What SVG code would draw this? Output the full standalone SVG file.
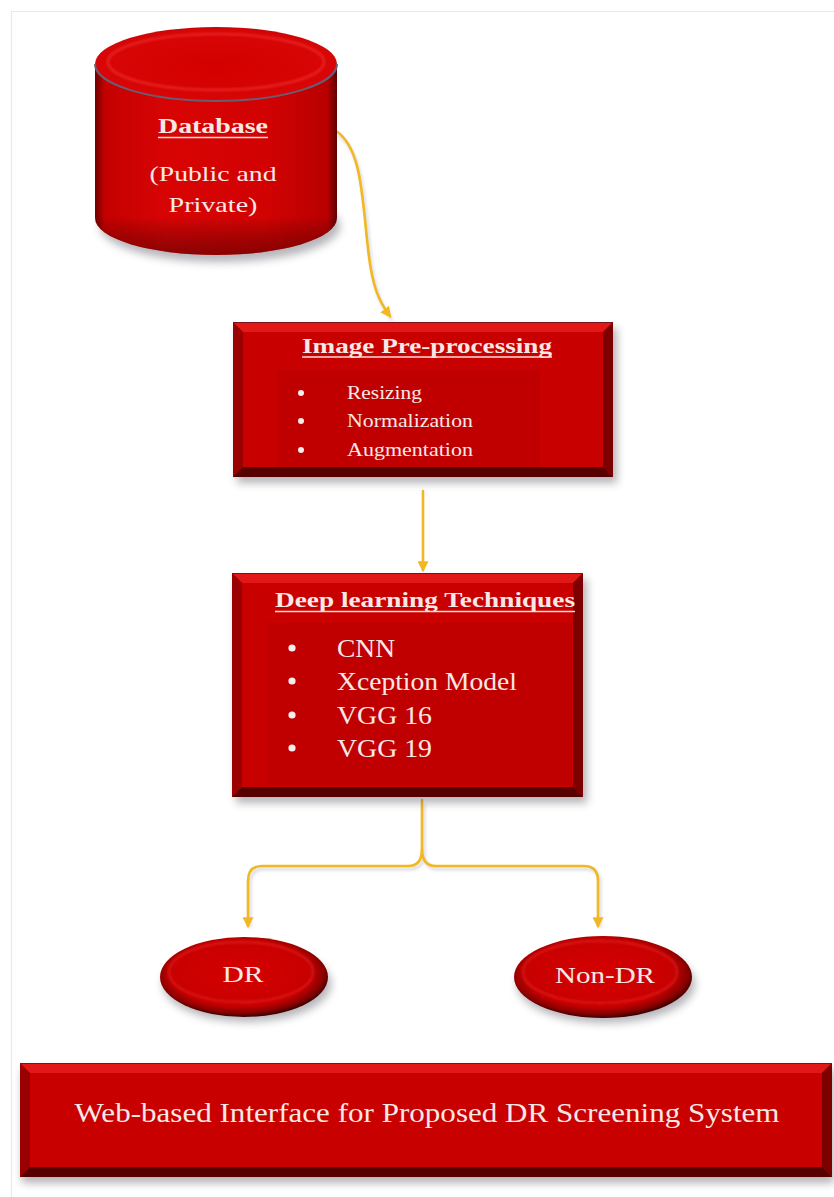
<svg xmlns="http://www.w3.org/2000/svg" width="834" height="1197" viewBox="0 0 834 1197">
  <defs>
    <style>
      .lbl { font-family: "Liberation Serif", "Times New Roman", serif; fill: #f7e8e6; }
      .ttl { font-weight: bold; }
      .ul { stroke: #f3dcd8; stroke-width: 1.6; }
      .wire { fill: none; stroke: #f2b822; stroke-width: 2.6; stroke-linecap: round; }
      .wire-sh { fill: none; stroke: #9a9aa8; stroke-width: 3; opacity: 0.35; filter: url(#soft); }
      .face { fill: #c80000; }
      .bev-t { fill: #e21818; }
      .bev-l { fill: #9a0000; }
      .bev-r { fill: #7c0000; }
      .bev-b { fill: #560000; }
      .panel { fill: #b90000; opacity: 0.55; }
      .dot { fill: #f7ece9; }
      .shadow { fill: #5a5a66; opacity: 0.45; filter: url(#blur4); }
    </style>
    <filter id="blur4" x="-10%" y="-20%" width="120%" height="140%">
      <feGaussianBlur stdDeviation="4"/>
    </filter>
    <filter id="soft" x="-20%" y="-20%" width="140%" height="140%">
      <feGaussianBlur stdDeviation="1.5"/>
    </filter>
    <filter id="edge" x="-5%" y="-5%" width="110%" height="110%">
      <feGaussianBlur stdDeviation="0.8"/>
    </filter>
    <linearGradient id="cylBody" x1="0" y1="0" x2="1" y2="0">
      <stop offset="0" stop-color="#6e0000"/>
      <stop offset="0.04" stop-color="#c40000"/>
      <stop offset="0.3" stop-color="#d80404"/>
      <stop offset="0.7" stop-color="#d20202"/>
      <stop offset="0.96" stop-color="#b80000"/>
      <stop offset="1" stop-color="#5e0000"/>
    </linearGradient>
    <linearGradient id="cylShade" x1="0" y1="0" x2="0" y2="1">
      <stop offset="0" stop-color="#000" stop-opacity="0"/>
      <stop offset="0.8" stop-color="#000" stop-opacity="0"/>
      <stop offset="1" stop-color="#300000" stop-opacity="0.45"/>
    </linearGradient>
    <radialGradient id="cylTop" cx="0.5" cy="0.55" r="0.6">
      <stop offset="0" stop-color="#d40000"/>
      <stop offset="0.85" stop-color="#d80606"/>
      <stop offset="1" stop-color="#b00000"/>
    </radialGradient>
    <radialGradient id="oval" cx="0.48" cy="0.45" r="0.55">
      <stop offset="0" stop-color="#d60000"/>
      <stop offset="0.75" stop-color="#c80000"/>
      <stop offset="0.9" stop-color="#8a0000"/>
      <stop offset="1" stop-color="#3a0000"/>
    </radialGradient>
    <marker id="head" viewBox="0 0 10 10" refX="8" refY="5" markerWidth="11" markerHeight="11" markerUnits="userSpaceOnUse" orient="auto">
      <path d="M0,0 L10,5 L0,10 Z" fill="#f2b822"/>
    </marker>
  </defs>

  <rect width="834" height="1197" fill="#ffffff"/>
  <!-- faint page frame -->
  <path d="M11.5,1197 V11.5 H834" fill="none" stroke="#e9e9ec" stroke-width="1.2"/>

  <!-- connectors -->
  <g id="connectors">
    <path class="wire-sh" d="M338,135 C364,152 364,202 370,252 C374,292 382,307 392,320"/>
    <path class="wire" d="M336,131 C362,148 362,198 368,248 C372,288 380,303 390,316" marker-end="url(#head)"/>
    <path class="wire-sh" d="M425,494 V574"/>
    <path class="wire" d="M423,491 V570" marker-end="url(#head)"/>
    <path class="wire-sh" d="M424,804 V852 Q424,869 410,869 H264 Q250,869 250,884 V928 M424,852 Q424,869 438,869 H586 Q600,869 600,884 V928"/>
    <path class="wire" d="M422,800 V849 Q422,866 408,866 H262 Q248,866 248,881 V926" marker-end="url(#head)"/>
    <path class="wire" d="M422,849 Q422,866 436,866 H584 Q598,866 598,881 V926" marker-end="url(#head)"/>
  </g>

  <!-- database cylinder -->
  <g id="database">
    <ellipse class="shadow" cx="220" cy="226" rx="120" ry="36"/>
    <path d="M95,64 V218 A121,37 0 0 0 337,218 V64 Z" fill="url(#cylBody)"/>
    <path d="M95,64 V218 A121,37 0 0 0 337,218 V64 Z" fill="url(#cylShade)"/>
    <ellipse cx="216" cy="64" rx="121" ry="37" fill="url(#cylTop)"/>
    <ellipse cx="216" cy="62" rx="108" ry="28" fill="none" stroke="#ea2a2a" stroke-width="3" opacity="0.7" filter="url(#edge)"/>
    <path d="M95,64 A121,37 0 0 0 337,64" fill="none" stroke="#6a5c72" stroke-width="2"/>
    <text class="lbl ttl" x="213" y="133" font-size="22" text-anchor="middle" textLength="110" lengthAdjust="spacingAndGlyphs">Database</text>
    <line class="ul" x1="158" y1="137.5" x2="268" y2="137.5"/>
    <text class="lbl" x="213" y="181" font-size="22" text-anchor="middle" textLength="127" lengthAdjust="spacingAndGlyphs">(Public and</text>
    <text class="lbl" x="213" y="212" font-size="22" text-anchor="middle" textLength="89" lengthAdjust="spacingAndGlyphs">Private)</text>
  </g>

  <!-- image pre-processing box -->
  <g id="preprocessing">
    <rect class="shadow" x="237" y="328" width="380" height="155"/>
    <rect class="face" x="233" y="322" width="380" height="155"/>
    <polygon class="bev-t" points="233,322 613,322 603,332 243,332"/>
    <polygon class="bev-l" points="233,322 243,332 243,467 233,477"/>
    <polygon class="bev-r" points="613,322 613,477 603,467 603,332"/>
    <polygon class="bev-b" points="233,477 613,477 603,467 243,467"/>
    <line x1="233" y1="322.5" x2="613" y2="322.5" stroke="#7a1020" stroke-width="1"/>
    <rect class="panel" x="277" y="370" width="263" height="97"/>
    <text class="lbl ttl" x="427" y="353" font-size="20" text-anchor="middle" textLength="250" lengthAdjust="spacingAndGlyphs">Image Pre-processing</text>
    <line class="ul" x1="302" y1="357" x2="552" y2="357"/>
    <circle class="dot" cx="301" cy="393" r="3"/>
    <circle class="dot" cx="301" cy="421" r="3"/>
    <circle class="dot" cx="301" cy="450" r="3"/>
    <text class="lbl" x="347" y="399" font-size="18" textLength="75" lengthAdjust="spacingAndGlyphs">Resizing</text>
    <text class="lbl" x="347" y="427" font-size="18" textLength="126" lengthAdjust="spacingAndGlyphs">Normalization</text>
    <text class="lbl" x="347" y="456" font-size="18" textLength="126" lengthAdjust="spacingAndGlyphs">Augmentation</text>
  </g>

  <!-- deep learning box -->
  <g id="deep-learning">
    <rect class="shadow" x="236" y="579" width="351" height="224"/>
    <rect class="face" x="232" y="573" width="351" height="224"/>
    <polygon class="bev-t" points="232,573 583,573 573,583 242,583"/>
    <polygon class="bev-l" points="232,573 242,583 242,787 232,797"/>
    <polygon class="bev-r" points="583,573 583,797 573,787 573,583"/>
    <polygon class="bev-b" points="232,797 583,797 573,787 242,787"/>
    <line x1="232" y1="573.5" x2="583" y2="573.5" stroke="#7a1020" stroke-width="1"/>
    <rect class="panel" x="267" y="623" width="305" height="162"/>
    <text class="lbl ttl" x="425" y="607" font-size="22" text-anchor="middle" textLength="300" lengthAdjust="spacingAndGlyphs">Deep learning Techniques</text>
    <line class="ul" x1="275" y1="611.5" x2="575" y2="611.5"/>
    <circle class="dot" cx="292" cy="648" r="3.6"/>
    <circle class="dot" cx="292" cy="681" r="3.6"/>
    <circle class="dot" cx="292" cy="715" r="3.6"/>
    <circle class="dot" cx="292" cy="748" r="3.6"/>
    <text class="lbl" x="337" y="657" font-size="25" textLength="58" lengthAdjust="spacingAndGlyphs">CNN</text>
    <text class="lbl" x="337" y="690" font-size="25" textLength="180" lengthAdjust="spacingAndGlyphs">Xception Model</text>
    <text class="lbl" x="337" y="724" font-size="25" textLength="95" lengthAdjust="spacingAndGlyphs">VGG 16</text>
    <text class="lbl" x="337" y="757" font-size="25" textLength="95" lengthAdjust="spacingAndGlyphs">VGG 19</text>
  </g>

  <!-- outcome: DR -->
  <g id="dr">
    <ellipse class="shadow" cx="247" cy="984" rx="84" ry="38"/>
    <ellipse cx="244" cy="977" rx="84" ry="40" fill="url(#oval)"/>
    <ellipse cx="241" cy="972" rx="72" ry="30" fill="none" stroke="#e52424" stroke-width="2.5" opacity="0.6" filter="url(#edge)"/>
    <text class="lbl" x="243" y="982" font-size="23" text-anchor="middle" textLength="41" lengthAdjust="spacingAndGlyphs">DR</text>
  </g>

  <!-- outcome: Non-DR -->
  <g id="non-dr">
    <ellipse class="shadow" cx="606" cy="984" rx="89" ry="39"/>
    <ellipse cx="603" cy="977" rx="89" ry="41" fill="url(#oval)"/>
    <ellipse cx="600" cy="972" rx="77" ry="31" fill="none" stroke="#e52424" stroke-width="2.5" opacity="0.6" filter="url(#edge)"/>
    <text class="lbl" x="605" y="983" font-size="23" text-anchor="middle" textLength="100" lengthAdjust="spacingAndGlyphs">Non-DR</text>
  </g>

  <!-- web interface bar -->
  <g id="web-interface">
    <rect class="shadow" x="22" y="1069" width="812" height="114"/>
    <rect class="face" x="20" y="1063" width="812" height="114"/>
    <polygon class="bev-t" points="20,1063 832,1063 822,1073 30,1073"/>
    <polygon class="bev-l" points="20,1063 30,1073 30,1167 20,1177"/>
    <polygon class="bev-r" points="832,1063 832,1177 822,1167 822,1073"/>
    <polygon class="bev-b" points="20,1177 832,1177 822,1167 30,1167"/>
    <line x1="20" y1="1063.5" x2="832" y2="1063.5" stroke="#7a1020" stroke-width="1"/>
    <text class="lbl" x="427" y="1122" font-size="27" text-anchor="middle" textLength="705" lengthAdjust="spacingAndGlyphs">Web-based Interface for Proposed DR Screening System</text>
  </g>
</svg>
